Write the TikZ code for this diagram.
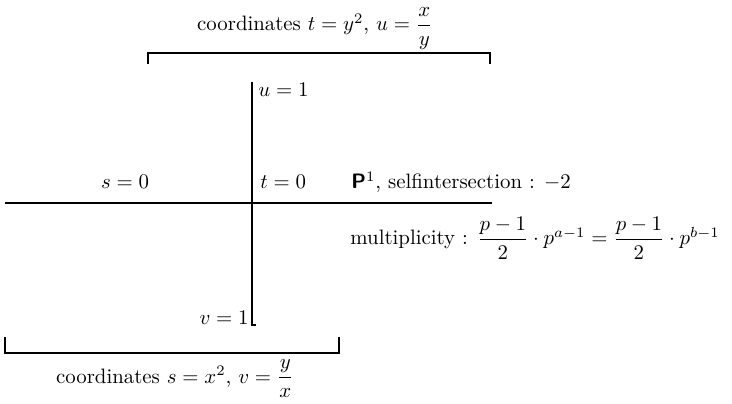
\documentclass[tikz,border=0pt]{standalone}
\usepackage{amsmath,amssymb}
\usepackage{tikz}
\usetikzlibrary{positioning,calc}

\begin{document}
\begin{tikzpicture}[x=0.48pt, y=-0.48pt, font=\normalsize,
    curve/.style={line width=0.9pt},
    brace/.style={line width=0.9pt},
    lbl/.style={inner sep=0pt}]
  \useasboundingbox (0,0) rectangle (732,404);
  % the two components
  \coordinate (vtop) at (252,82);
  \coordinate (vbot) at (252,325);
  \coordinate (hl) at (5,203);
  \coordinate (hr) at (492,203);
  \draw[curve] (vtop) -- (vbot) -- ++(4,0);
  \draw[curve] (hl) -- (hr);
  % labels on the lines
  \node[lbl, anchor=base west] (u1) at (258,97) {$u=1$};
  \node[lbl, anchor=base east] (v1) at (249,324) {$v=1$};
  \node[lbl, anchor=base] (s0) at (125,189) {$s=0$};
  \node[lbl, anchor=base west] (t0) at (260,189) {$t=0$};
  \node[lbl, anchor=base west] (self) at (351,189) {\textsf{\textbf{P}}$^1$, selfintersection : $-2$};
  \node[lbl, anchor=base west] (mult) at (350,245)
    {multiplicity : $\dfrac{p-1}{2}\cdot p^{a-1}=\dfrac{p-1}{2}\cdot p^{b-1}$};
  % charts
  \coordinate (ta) at (148,64);
  \coordinate (tb) at (490,64);
  \draw[brace] (ta) -- ++(0,-11) -| (tb);
  \node[lbl, anchor=base] (topcoords) at (315,31) {coordinates $t=y^2$, $u=\dfrac{x}{y}$};
  \coordinate (ba) at (5,337);
  \coordinate (bb) at (339,337);
  \draw[brace] (ba) -- ++(0,16) -| (bb);
  \node[lbl, anchor=base] (botcoords) at (175,383) {coordinates $s=x^2$, $v=\dfrac{y}{x}$};
\end{tikzpicture}
\end{document}
